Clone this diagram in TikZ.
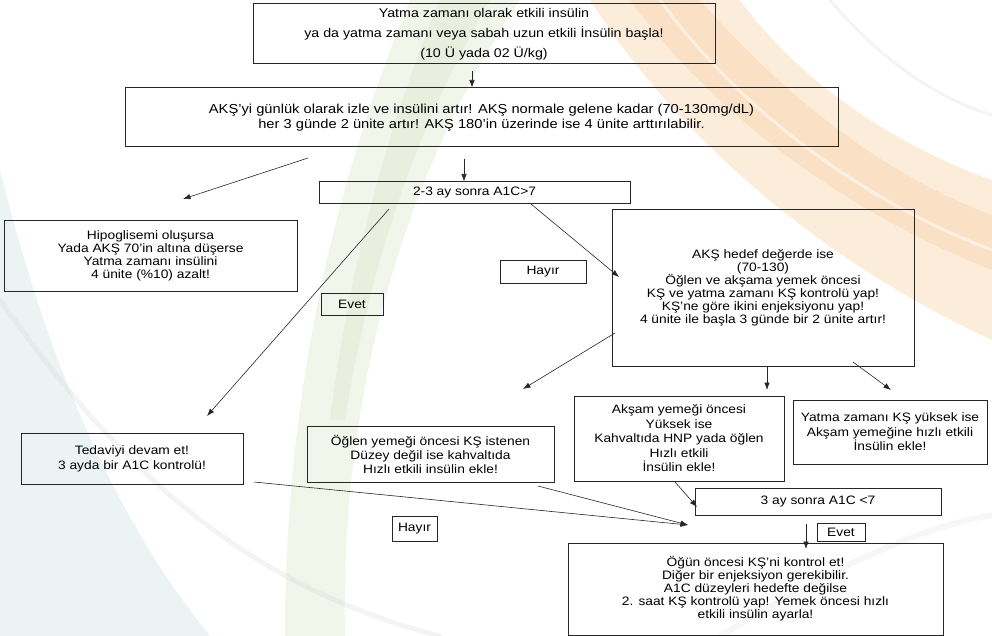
\documentclass[tikz,border=0pt]{standalone}
\usepackage{fontspec}
\setmainfont{Liberation Sans}
\newfontfamily\boxfont[FakeStretch=1.13]{Liberation Sans}
\usetikzlibrary{arrows.meta}
\definecolor{peach}{RGB}{246,200,150}
\definecolor{sage}{RGB}{185,205,150}
\definecolor{mist}{RGB}{200,220,220}
\tikzset{
  box/.style={draw=black!85, line width=1pt, inner sep=0pt, align=center,
    font=\boxfont\fontsize{12.2}{13}\selectfont},
  lbl/.style={box, font=\boxfont\fontsize{12.2}{13}\selectfont},
  arr/.style={draw=black!85, line width=0.6pt, -{Latex[length=7.5pt,width=5.5pt]}},
  swoosh/.style={line cap=round, opacity=#1},
}
\begin{document}
\begin{tikzpicture}[x=1pt,y=-1pt]
\useasboundingbox (0,0) rectangle (992,636);
% background swooshes
\fill[peach, opacity=0.35] (590,0) .. controls (680,140) and (820,260) .. (992,340) -- (992,180) .. controls (880,140) and (790,70) .. (740,0) -- cycle;
\fill[peach, opacity=0.30] (630,0) .. controls (710,110) and (840,210) .. (992,270) -- (992,215) .. controls (870,170) and (770,80) .. (700,0) -- cycle;
\draw[white, line width=3pt, swoosh=0.5] (660,0) .. controls (740,110) and (860,200) .. (992,250);
\fill[sage, opacity=0.2] (410,0) .. controls (340,170) and (285,380) .. (285,636) -- (345,636) .. controls (340,400) and (400,180) .. (520,0) -- cycle;
\fill[sage, opacity=0.15] (440,0) .. controls (390,120) and (350,260) .. (330,420) -- (345,420) .. controls (370,260) and (420,120) .. (490,0) -- cycle;
\fill[mist, opacity=0.35] (0,170) .. controls (40,330) and (100,500) .. (210,636) -- (0,636) -- cycle;
\draw[gray!35, line width=5pt, swoosh=0.25] (0,300) .. controls (100,440) and (220,580) .. (440,636);
\draw[gray!35, line width=3pt, swoosh=0.25] (830,0) .. controls (880,60) and (940,100) .. (992,115);
\draw[gray!30, line width=6pt, swoosh=0.2] (720,636) .. controls (830,570) and (910,530) .. (992,515);

% nodes
\node[box, minimum width=462, minimum height=60, font=\boxfont\fontsize{12.6}{20}\selectfont] (top) at (484,34)
  {Yatma zamanı olarak etkili insülin\\ya da yatma zamanı veya sabah uzun etkili İnsülin başla!\\(10 Ü yada 02 Ü/kg)};
\node[box, minimum width=713, minimum height=59, font=\boxfont\fontsize{13}{15}\selectfont] (izle) at (481.5,117.5)
  {AKŞ’yi günlük olarak izle ve insülini artır! AKŞ normale gelene kadar (70-130mg/dL)\\her 3 günde 2 ünite artır! AKŞ 180’in üzerinde ise 4 ünite arttırılabilir.};
\node[box, minimum width=311, minimum height=22] (aic) at (474.5,193) {2-3 ay sonra A1C>7};
\node[box, minimum width=293, minimum height=70] (hipo) at (150.5,256)
  {Hipoglisemi oluşursa\\Yada AKŞ 70’in altına düşerse\\Yatma zamanı insülini\\4 ünite (\%10) azalt!};
\node[lbl, minimum width=62, minimum height=22] (evet1) at (352,304) {Evet};
\node[lbl, minimum width=86, minimum height=23] (hayir1) at (543,271.5) {Hayır};
\node[box, minimum width=302, minimum height=156] (hedef) at (763,288)
  {AKŞ hedef değerde ise\\(70-130)\\Öğlen ve akşama yemek öncesi\\KŞ ve yatma zamanı KŞ kontrolü yap!\\KŞ’ne göre ikini enjeksiyonu yap!\\4 ünite ile başla 3 günde bir 2 ünite artır!};
\node[box, minimum width=210, minimum height=85, font=\boxfont\fontsize{12.2}{14.5}\selectfont] (aksam) at (679,438.5)
  {Akşam yemeği öncesi\\Yüksek ise\\Kahvaltıda HNP yada öğlen\\Hızlı etkili\\İnsülin ekle!};
\node[box, minimum width=194, minimum height=64, font=\boxfont\fontsize{12.2}{14.5}\selectfont] (yatks) at (890,432)
  {Yatma zamanı KŞ yüksek ise\\Akşam yemeğine hızlı etkili\\İnsülin ekle!};
\node[box, minimum width=222, minimum height=51, font=\boxfont\fontsize{12.2}{15}\selectfont] (tedavi) at (132,458.5)
  {Tedaviyi devam et!\\3 ayda bir A1C kontrolü!};
\node[box, minimum width=247, minimum height=56, font=\boxfont\fontsize{12.2}{14}\selectfont] (oglen) at (430.5,454)
  {Öğlen yemeği öncesi KŞ istenen\\Düzey değil ise kahvaltıda\\Hızlı etkili insülin ekle!};
\node[box, minimum width=246, minimum height=27] (aic2) at (818,501.5) {3 ay sonra A1C <7};
\node[lbl, minimum width=45, minimum height=25] (hayir2) at (414.5,528.5) {Hayır};
\node[lbl, minimum width=48, minimum height=18] (evet2) at (841,532) {Evet};
\node[box, minimum width=375, minimum height=92] (ogun) at (755.5,589)
  {Öğün öncesi KŞ’ni kontrol et!\\Diğer bir enjeksiyon gerekibilir.\\A1C düzeyleri hedefte değilse\\2. saat KŞ kontrolü yap! Yemek öncesi hızlı\\etkili insülin ayarla!};

% connector end points
\coordinate (p1s) at (472,71);  \coordinate (p1e) at (472,87.5);
\coordinate (p2s) at (464,159); \coordinate (p2e) at (464,181.5);
\coordinate (p3s) at (308,158); \coordinate (p3e) at (183,199);
\coordinate (p4s) at (389,209); \coordinate (p4e) at (207,416);
\coordinate (p5s) at (531,204); \coordinate (p5e) at (619,277);
\coordinate (p6s) at (615,333); \coordinate (p6e) at (523,389);
\coordinate (p7s) at (767,367); \coordinate (p7e) at (767,390);
\coordinate (p8s) at (853,362); \coordinate (p8e) at (891,390);
\coordinate (p9s) at (254,482); \coordinate (merge) at (688,525);
\coordinate (p10s) at (538,486);
\coordinate (p11s) at (675,482); \coordinate (p11e) at (697,507);
\coordinate (p12s) at (806,524); \coordinate (p12e) at (806,549);

\draw[arr] (p1s) -- (p1e);
\draw[arr] (p2s) -- (p2e);
\draw[arr] (p3s) -- (p3e);
\draw[arr] (p4s) -- (p4e);
\draw[arr] (p5s) -- (p5e);
\draw[arr] (p6s) -- (p6e);
\draw[arr] (p7s) -- (p7e);
\draw[arr] (p8s) -- (p8e);
\draw[arr] (p9s) -- (merge);
\draw[arr] (p10s) -- (merge);
\draw[arr] (p11s) -- (p11e);
\draw[arr] (p12s) -- (p12e);
\end{tikzpicture}
\end{document}
